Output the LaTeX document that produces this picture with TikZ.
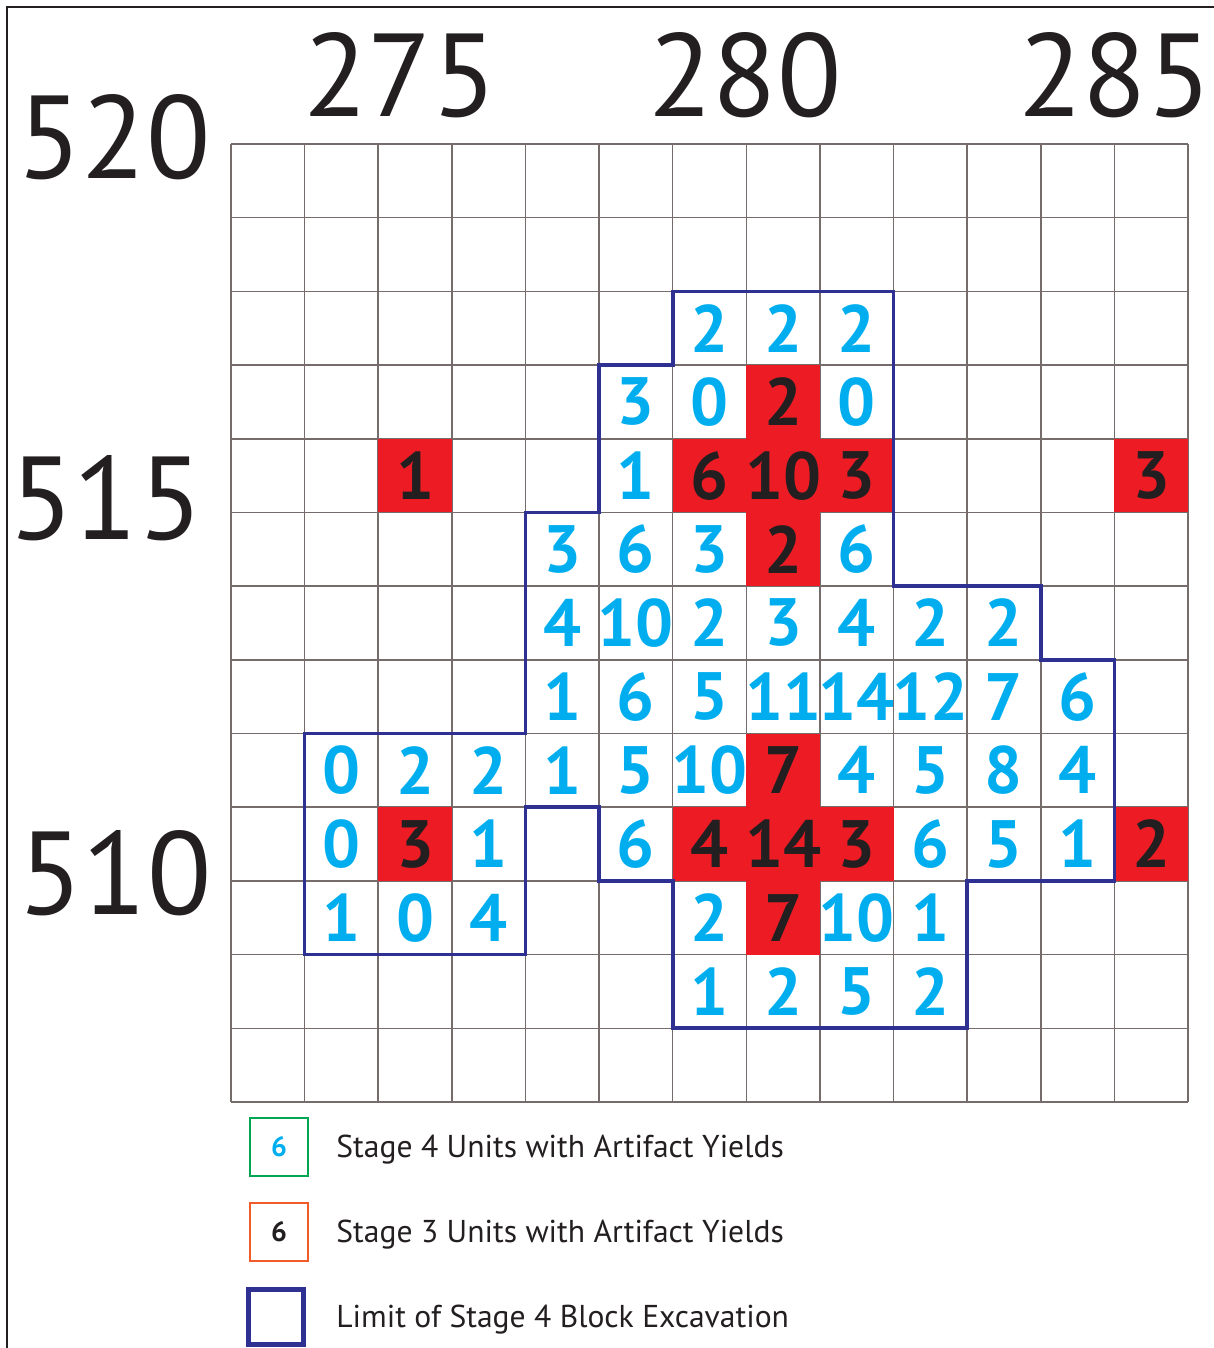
\documentclass[tikz,border=0pt]{standalone}
\usepackage{fontspec}
\setmainfont{PT Sans}
\definecolor{cyanA}{HTML}{00AEEF}
\definecolor{redA}{HTML}{ED1C24}
\definecolor{blueA}{HTML}{2E3192}
\definecolor{greenA}{HTML}{00A651}
\definecolor{orangeA}{HTML}{F15A29}
\definecolor{inkA}{HTML}{231F20}
\definecolor{gridA}{RGB}{118,108,108}
\begin{document}
\begin{tikzpicture}[x=0.5pt,y=-0.5pt,
  gridline/.style={draw=gridA,line width=0.75pt},
  cellnum/.style={font=\fontsize{33.5}{36}\selectfont\bfseries,inner sep=0pt},
  cyannum/.style={cellnum,text=cyanA},
  blacknum/.style={cellnum,text=inkA},
  redcell/.style={fill=redA},
  axislabel/.style={text=inkA,font=\fontsize{59}{60}\selectfont,inner sep=0pt},
  limit/.style={draw=blueA,line width=1.8pt,line join=miter},
  legbox/.style={minimum size=29pt,inner sep=0pt,font=\fontsize{14}{16}\selectfont\bfseries},
  legtext/.style={text=inkA,font=\fontsize{15.8}{19}\selectfont,anchor=base west,inner sep=0pt}
]
\useasboundingbox (0,0) rectangle (1214,1348);
% frame
\draw[line width=1pt,inkA] (7,1348) -- (7,7) -- (1214,7);
% grid points
\foreach \i in {0,...,13}{\foreach \j in {0,...,13}{
  \coordinate (g-\i-\j) at ({231+73.615*\i},{144+73.69*\j});}}
% grid lines
\foreach \i in {0,...,13}{
  \draw[gridline] (g-\i-0) -- (g-\i-13);
  \draw[gridline] (g-0-\i) -- (g-13-\i);}
% stage 3 cells (red)
\foreach \c/\r in {7/3,2/4,6/4,7/4,8/4,12/4,7/5,7/8,2/9,6/9,7/9,8/9,12/9,7/10}{
  \fill[redcell] ({231+73.615*\c},{144+73.69*\r}) rectangle ({231+73.615*(\c+1)},{144+73.69*(\r+1)});}
\foreach \c/\r/\v in {7/3/2,2/4/1,6/4/6,7/4/10,8/4/3,12/4/3,7/5/2,7/8/7,2/9/3,6/9/4,7/9/14,8/9/3,12/9/2,7/10/7}{
  \node[blacknum] (s3-\c-\r) at ({231+73.615*(\c+0.5)},{144+73.69*(\r+0.5)}) {\v};}
% stage 4 numbers (cyan)
\foreach \c/\r/\v in {6/2/2,7/2/2,8/2/2,
  5/3/3,6/3/0,8/3/0,
  5/4/1,
  4/5/3,5/5/6,6/5/3,8/5/6,
  4/6/4,5/6/10,6/6/2,7/6/3,8/6/4,9/6/2,10/6/2,
  4/7/1,5/7/6,6/7/5,7/7/11,8/7/14,9/7/12,10/7/7,11/7/6,
  1/8/0,2/8/2,3/8/2,4/8/1,5/8/5,6/8/10,8/8/4,9/8/5,10/8/8,11/8/4,
  1/9/0,3/9/1,5/9/6,9/9/6,10/9/5,11/9/1,
  1/10/1,2/10/0,3/10/4,6/10/2,8/10/10,9/10/1,
  6/11/1,7/11/2,8/11/5,9/11/2}{
  \node[cyannum] (s4-\c-\r) at ({231+73.615*(\c+0.5)},{144+73.69*(\r+0.5)}) {\v};}
% limit of stage 4 block excavation
\draw[limit] (g-6-2) -- (g-9-2) -- (g-9-6) -- (g-11-6) -- (g-11-7) -- (g-12-7)
  -- (g-12-10) -- (g-10-10) -- (g-10-12) -- (g-6-12) -- (g-6-10) -- (g-5-10)
  -- (g-5-9) -- (g-4-9) -- (g-4-11) -- (g-1-11) -- (g-1-8) -- (g-4-8)
  -- (g-4-5) -- (g-5-5) -- (g-5-3) -- (g-6-3) -- cycle;
% axis labels
\node[axislabel] (e275) at (400,75) {275};
\node[axislabel] (e280) at (745,75) {280};
\node[axislabel] (e285) at (1115,75) {285};
\node[axislabel] (n520) at (114,137) {520};
\node[axislabel] (n515) at (106,498) {515};
\node[axislabel] (n510) at (115,873) {510};
% legend
\node[legbox,draw=greenA,line width=1.1pt,text=cyanA] (leg1) at (279,1147) {6};
\node[legbox,draw=orangeA,line width=1.1pt,text=inkA] (leg2) at (279,1232) {6};
\node[legbox,draw=blueA,line width=2.5pt,minimum size=27.5pt] (leg3) at (276,1317) {};
\node[legtext] (lt1) at (336,1157) {Stage 4 Units with Artifact Yields};
\node[legtext] (lt2) at (336,1242) {Stage 3 Units with Artifact Yields};
\node[legtext] (lt3) at (336,1327) {Limit of Stage 4 Block Excavation};
\end{tikzpicture}
\end{document}
